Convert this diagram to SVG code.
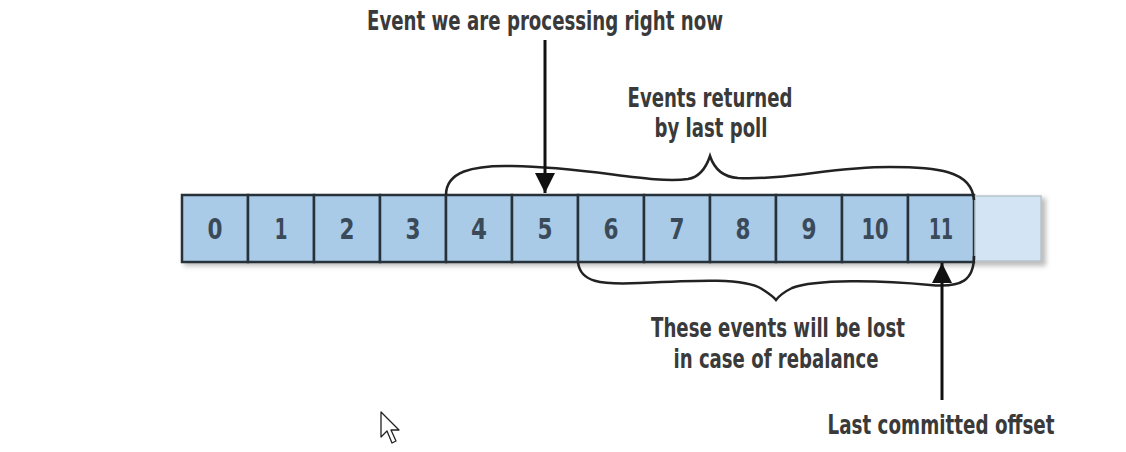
<svg xmlns="http://www.w3.org/2000/svg" width="1126" height="452" viewBox="0 0 1126 452">
  <defs>
    <style>
      .cell { fill: #a9cbe8; stroke: #27313a; stroke-width: 2.5; }
      .num { font-family: "DejaVu Sans Condensed", "Liberation Sans", sans-serif; font-size: 29px; font-weight: bold; fill: #3b4a58; text-anchor: middle; }
      .lbl { font-family: "DejaVu Sans Condensed", "Liberation Sans", sans-serif; font-size: 26px; font-weight: bold; fill: #3a3a3a; text-anchor: middle; }
      .brace { fill: none; stroke: #222; stroke-width: 2.5; }
      .arrow { fill: none; stroke: #111; stroke-width: 3; }
    </style>
    <marker id="ah" viewBox="0 0 10 10" refX="10" refY="5" markerWidth="20" markerHeight="20" markerUnits="userSpaceOnUse" orient="auto">
      <path d="M0,0 L10,5 L0,10 Z" fill="#111"/>
    </marker>
    <filter id="sh" x="-5%" y="-30%" width="110%" height="160%">
      <feGaussianBlur stdDeviation="2.5"/>
    </filter>
  </defs>
  <rect width="1126" height="452" fill="#ffffff"/>

  <!-- shadow -->
  <rect x="184" y="198" width="862" height="68" fill="#7a7a7a" opacity="0.5" filter="url(#sh)"/>

  <g id="cells">
    <g id="cell-0"><rect class="cell" x="182" y="195" width="66" height="67"/><text class="num" x="215" y="239" textLength="15" lengthAdjust="spacingAndGlyphs">0</text></g>
    <g id="cell-1"><rect class="cell" x="248" y="195" width="66" height="67"/><text class="num" x="281" y="239" textLength="13" lengthAdjust="spacingAndGlyphs">1</text></g>
    <g id="cell-2"><rect class="cell" x="314" y="195" width="66" height="67"/><text class="num" x="347" y="239" textLength="15" lengthAdjust="spacingAndGlyphs">2</text></g>
    <g id="cell-3"><rect class="cell" x="380" y="195" width="66" height="67"/><text class="num" x="413" y="239" textLength="15" lengthAdjust="spacingAndGlyphs">3</text></g>
    <g id="cell-4"><rect class="cell" x="446" y="195" width="66" height="67"/><text class="num" x="479" y="239" textLength="16" lengthAdjust="spacingAndGlyphs">4</text></g>
    <g id="cell-5"><rect class="cell" x="512" y="195" width="66" height="67"/><text class="num" x="545" y="239" textLength="15" lengthAdjust="spacingAndGlyphs">5</text></g>
    <g id="cell-6"><rect class="cell" x="578" y="195" width="66" height="67"/><text class="num" x="611" y="239" textLength="15" lengthAdjust="spacingAndGlyphs">6</text></g>
    <g id="cell-7"><rect class="cell" x="644" y="195" width="66" height="67"/><text class="num" x="677" y="239" textLength="15" lengthAdjust="spacingAndGlyphs">7</text></g>
    <g id="cell-8"><rect class="cell" x="710" y="195" width="66" height="67"/><text class="num" x="743" y="239" textLength="15" lengthAdjust="spacingAndGlyphs">8</text></g>
    <g id="cell-9"><rect class="cell" x="776" y="195" width="66" height="67"/><text class="num" x="809" y="239" textLength="15" lengthAdjust="spacingAndGlyphs">9</text></g>
    <g id="cell-10"><rect class="cell" x="842" y="195" width="66" height="67"/><text class="num" x="875" y="239" textLength="27" lengthAdjust="spacingAndGlyphs">10</text></g>
    <g id="cell-11"><rect class="cell" x="908" y="195" width="66" height="67"/><text class="num" x="941" y="239" textLength="24" lengthAdjust="spacingAndGlyphs">11</text></g>
    <g id="cell-empty"><rect x="975" y="196" width="66" height="65" fill="#d3e5f4" stroke="#b8c3cc" stroke-width="1.5"/></g>
  </g>

  <g id="connectors">
    <path class="brace" d="M446,195 C446,172 472,165 512,166 C590,167 650,184 688,179 C700,177 706,168 710,156 C714,168 722,177 738,178 C790,180 830,167 890,167 C935,167 972,170 974,200"/>
    <path class="brace" d="M578,262 C580,282 600,285 640,283 C700,280 745,278 762,289 C768,293 773,296 776,300 C779,296 784,292 792,288 C815,279 880,280 930,285 C962,288 974,280 974,256"/>
    <line class="arrow" x1="545" y1="40" x2="545" y2="193" marker-end="url(#ah)"/>
    <line class="arrow" x1="942" y1="400" x2="942" y2="263" marker-end="url(#ah)"/>
  </g>

  <g id="labels">
    <text class="lbl" x="545" y="30" textLength="356" lengthAdjust="spacingAndGlyphs">Event we are processing right now</text>
    <text class="lbl" x="710" y="107" textLength="165" lengthAdjust="spacingAndGlyphs">Events returned</text>
    <text class="lbl" x="711" y="137" textLength="113" lengthAdjust="spacingAndGlyphs">by last poll</text>
    <text class="lbl" x="778" y="337" textLength="254" lengthAdjust="spacingAndGlyphs">These events will be lost</text>
    <text class="lbl" x="776" y="368" textLength="205" lengthAdjust="spacingAndGlyphs">in case of rebalance</text>
    <text class="lbl" x="941" y="434" textLength="227" lengthAdjust="spacingAndGlyphs">Last committed offset</text>
  </g>

  <g id="cursor">
    <path d="M381,412 L381,437 L387,431 L392,443 L396,441 L391,430 L399,430 Z" fill="#ffffff" stroke="#222" stroke-width="1.3" stroke-linejoin="round"/>
  </g>
</svg>
